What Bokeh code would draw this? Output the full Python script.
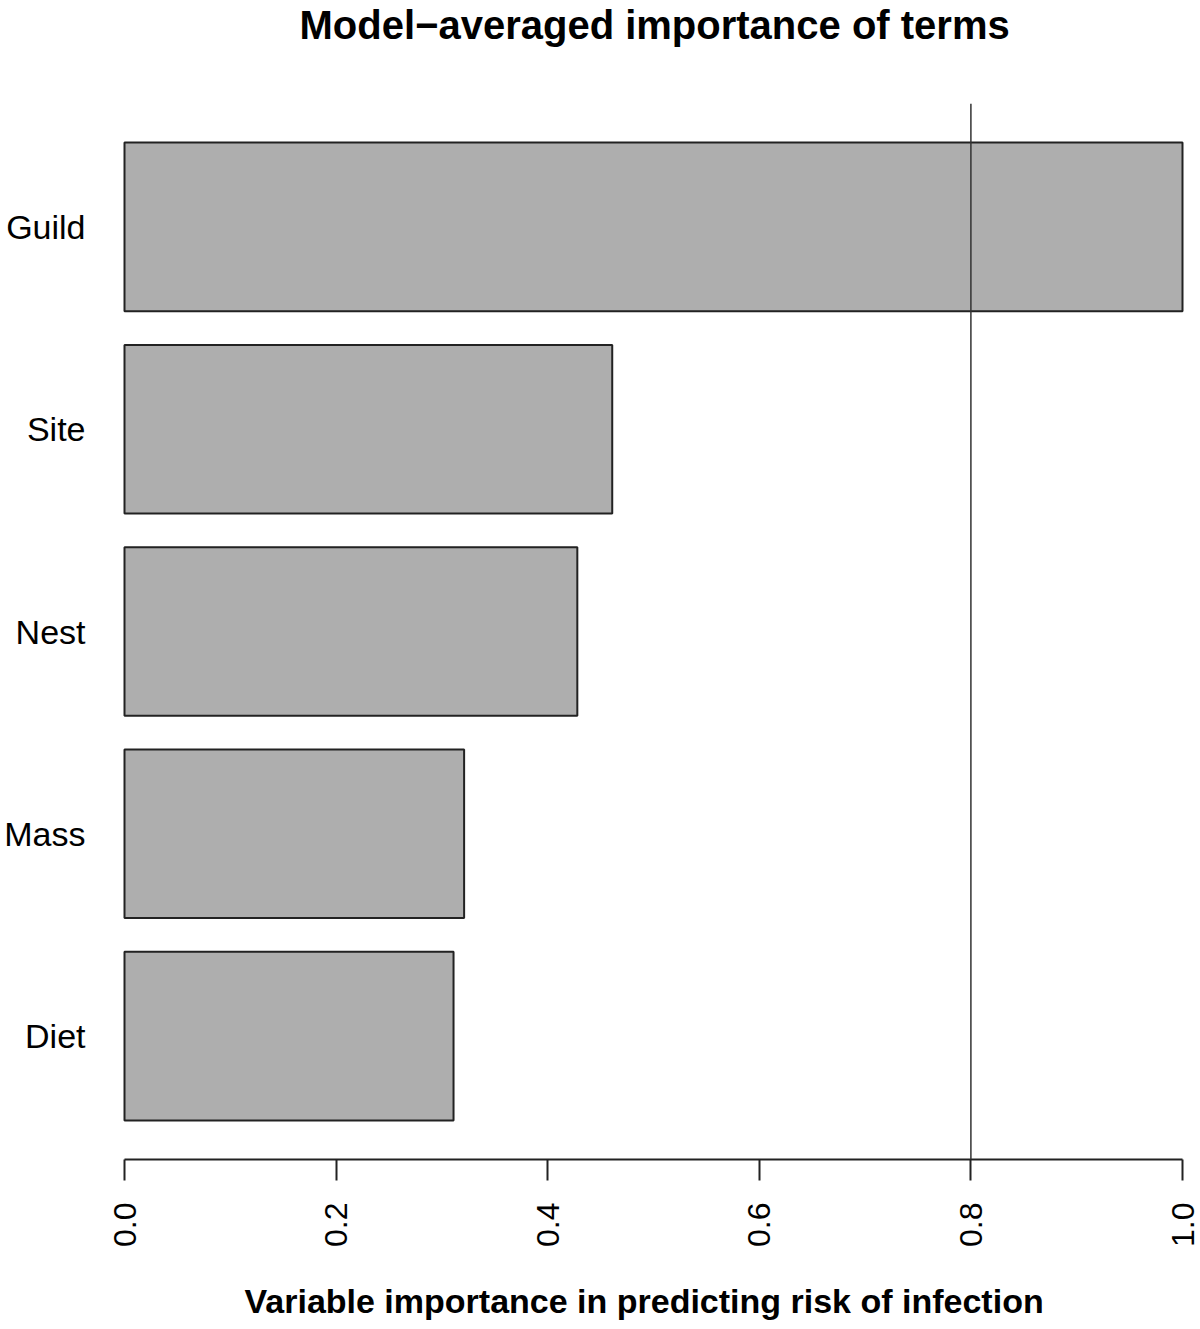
import math
from bokeh.plotting import figure
from bokeh.models import Range1d, FactorRange, Span, FixedTicker, Title
from bokeh.embed import file_html
from bokeh.resources import INLINE

# ---- data ----
terms = ["Guild", "Site", "Nest", "Mass", "Diet"]
importance = [1.0, 0.461, 0.428, 0.321, 0.311]
x_ticks = [0.0, 0.2, 0.4, 0.6, 0.8, 1.0]
x_tick_labels = ["0.0", "0.2", "0.4", "0.6", "0.8", "1.0"]
threshold = 0.8
title_text = "Model\u2212averaged importance of terms"
xlabel_text = "Variable importance in predicting risk of infection"

FONT = "Liberation Sans"
W, H = 1200, 1329
LEFT = 118
TOP = 103
BOTTOM = 170
PX_PER_UNIT = 1058.0
x_start = -(124 - LEFT) / PX_PER_UNIT
x_end = x_start + (W - LEFT) / PX_PER_UNIT

p = figure(
    width=W, height=H, output_backend="svg", toolbar_location=None,
    title=None,
    x_range=Range1d(x_start, x_end),
    y_range=FactorRange(factors=terms[::-1], range_padding=0.11,
                        range_padding_units="absolute"),
    min_border_left=LEFT, min_border_right=0,
    min_border_top=TOP, min_border_bottom=BOTTOM,
)
p.outline_line_color = None
p.background_fill_color = "white"
p.border_fill_color = "white"
p.xgrid.visible = False
p.ygrid.visible = False

p.hbar(y=terms, left=0, right=importance, height=1 / 1.2,
       fill_color="#aeaeae", line_color="#222222", line_width=2)

p.add_layout(Span(location=threshold, dimension="height",
                  line_color="#333333", line_width=1.5))

# spacer between frame and title, then the title itself
p.add_layout(Title(text=" ", text_font_size="10px", standoff=44), "above")
p.add_layout(Title(text=title_text, align="left", offset=181, standoff=0,
                   text_font=FONT, text_font_style="bold",
                   text_font_size="40px", text_color="black"), "above")

# x axis
xa = p.xaxis[0]
xa.ticker = FixedTicker(ticks=x_ticks)
xa.major_label_overrides = {t: l for t, l in zip(x_ticks, x_tick_labels)}
xa.bounds = (0, 1)
xa.axis_line_width = 2
xa.axis_line_color = "#222222"
xa.major_tick_line_width = 2
xa.major_tick_line_color = "#222222"
xa.major_tick_in = 0
xa.major_tick_out = 21
xa.minor_tick_line_color = None
xa.major_label_orientation = math.pi / 2
xa.major_label_standoff = 22
xa.major_label_text_font = FONT
xa.major_label_text_font_size = "32px"
xa.major_label_text_color = "black"

# x-axis title below the tick labels (spacer, then the label)
p.add_layout(Title(text=" ", text_font_size="10px", standoff=19), "below")
p.add_layout(Title(text=xlabel_text, align="left", offset=126, standoff=0,
                   vertical_align="top",
                   text_font=FONT, text_font_style="bold",
                   text_font_size="34px", text_color="black"), "below")

# y axis (category names)
ya = p.yaxis[0]
ya.axis_line_color = None
ya.major_tick_line_color = None
ya.major_tick_in = 0
ya.major_tick_out = 0
ya.minor_tick_line_color = None
ya.major_label_standoff = 33
ya.major_label_text_font = FONT
ya.major_label_text_font_size = "34px"
ya.major_label_text_color = "black"

open("out.html", "w").write(file_html(p, INLINE))
